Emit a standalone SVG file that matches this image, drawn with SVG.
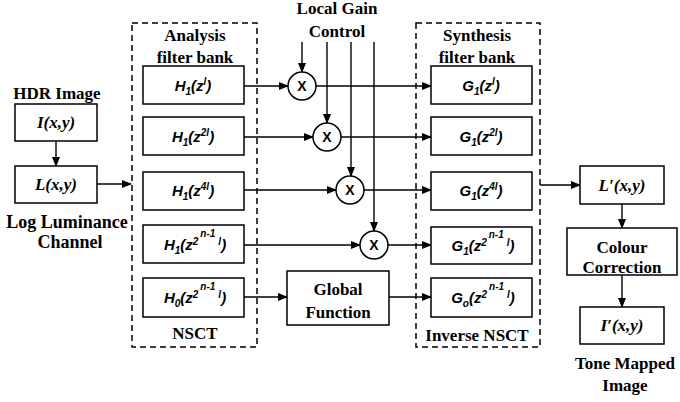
<svg xmlns="http://www.w3.org/2000/svg" width="680" height="402" viewBox="0 0 680 402">
<style>
.box{fill:#fff;stroke:#000;stroke-width:1.5}
.dash{fill:none;stroke:#000;stroke-width:1.5;stroke-dasharray:6,4}
.ln{fill:none;stroke:#000;stroke-width:1.4}
.arr{marker-end:url(#ah)}
.lbl{font-family:"Liberation Serif","Times New Roman","DejaVu Serif",serif;font-weight:bold;font-size:17px;fill:#000;text-anchor:middle}
.mi{font-family:"Liberation Serif","Times New Roman","DejaVu Serif",serif;font-weight:bold;font-style:italic;font-size:17px;fill:#000;text-anchor:middle}
.m{font-family:"Liberation Sans",Arial,sans-serif;font-weight:bold;font-style:italic;font-size:15px;fill:#000;text-anchor:middle}
.s{font-size:10px}
.x{font-family:"Liberation Sans",Arial,sans-serif;font-weight:bold;font-size:14px;fill:#000;text-anchor:middle}
</style>
<defs>
<marker id="ah" markerWidth="10" markerHeight="8" refX="9" refY="4" orient="auto" markerUnits="userSpaceOnUse">
<path d="M0,0 L10,4 L0,8 Z" fill="#000"/>
</marker>
</defs>
<rect width="680" height="402" fill="#fff"/>

<g id="connectors">
<line class="ln arr" x1="56" y1="141" x2="56" y2="166"/>
<line class="ln arr" x1="97" y1="184" x2="131" y2="184"/>
<line class="ln arr" x1="302" y1="42" x2="302" y2="72"/>
<line class="ln arr" x1="327" y1="42" x2="327" y2="123"/>
<line class="ln arr" x1="351" y1="42" x2="351" y2="176"/>
<line class="ln arr" x1="374" y1="42" x2="374" y2="231"/>
<line class="ln arr" x1="244" y1="86" x2="288" y2="86"/>
<line class="ln arr" x1="316" y1="86" x2="431" y2="86"/>
<line class="ln arr" x1="244" y1="137" x2="313" y2="137"/>
<line class="ln arr" x1="341" y1="137" x2="431" y2="137"/>
<line class="ln arr" x1="244" y1="190" x2="336" y2="190"/>
<line class="ln arr" x1="364" y1="190" x2="431" y2="190"/>
<line class="ln arr" x1="244" y1="245" x2="360" y2="245"/>
<line class="ln arr" x1="388" y1="245" x2="431" y2="245"/>
<line class="ln arr" x1="244" y1="297" x2="287" y2="297"/>
<line class="ln arr" x1="389" y1="297" x2="431" y2="297"/>
<line class="ln arr" x1="540" y1="185" x2="580" y2="185"/>
<line class="ln arr" x1="622" y1="204" x2="622" y2="228"/>
<line class="ln arr" x1="622" y1="275" x2="622" y2="307"/>
</g>

<g id="hdr">
<text class="lbl" x="57" y="99">HDR Image</text>
</g>
<g id="Ixy">
<rect class="box" x="15" y="104" width="82" height="37"/>
<text class="mi" x="56" y="128">I(x,y)</text>
</g>
<g id="Lxy">
<rect class="box" x="15" y="166" width="82" height="37"/>
<text class="mi" x="56" y="190">L(x,y)</text>
<text class="lbl" x="67" y="228" style="font-size:18px">Log Luminance</text>
<text class="lbl" x="70" y="248" style="font-size:18px">Channel</text>
</g>

<g id="analysis">
<rect class="dash" x="132" y="23" width="125" height="324"/>
<text class="lbl" x="195" y="41">Analysis</text>
<text class="lbl" x="195" y="63">filter bank</text>
<text class="lbl" x="195" y="339">NSCT</text>
</g>
<g id="H1">
<rect class="box" x="143" y="66" width="101" height="38"/>
<text class="m" x="193" y="91">H<tspan class="s" dy="4">1</tspan><tspan dy="-4">(z</tspan><tspan class="s" dy="-6">l</tspan><tspan dy="6">)</tspan></text>
</g>
<g id="H2">
<rect class="box" x="143" y="117" width="101" height="38"/>
<text class="m" x="193" y="142">H<tspan class="s" dy="4">1</tspan><tspan dy="-4">(z</tspan><tspan class="s" dy="-6">2l</tspan><tspan dy="6">)</tspan></text>
</g>
<g id="H3">
<rect class="box" x="143" y="172" width="101" height="38"/>
<text class="m" x="193" y="196">H<tspan class="s" dy="4">1</tspan><tspan dy="-4">(z</tspan><tspan class="s" dy="-6">4l</tspan><tspan dy="6">)</tspan></text>
</g>
<g id="H4">
<rect class="box" x="143" y="225" width="101" height="38"/>
<text class="m" x="195" y="250">H<tspan class="s" dy="4">1</tspan><tspan dy="-4">(z</tspan><tspan class="s" dy="-5">2</tspan><tspan class="s" dy="-8" dx="2">n-1</tspan><tspan class="s" dy="8" dx="3">l</tspan><tspan dy="5">)</tspan></text>
</g>
<g id="H0">
<rect class="box" x="143" y="278" width="101" height="39"/>
<text class="m" x="195" y="303">H<tspan class="s" dy="4">0</tspan><tspan dy="-4">(z</tspan><tspan class="s" dy="-5">2</tspan><tspan class="s" dy="-8" dx="2">n-1</tspan><tspan class="s" dy="8" dx="3">l</tspan><tspan dy="5">)</tspan></text>
</g>

<g id="lgc">
<text class="lbl" x="337" y="14">Local Gain</text>
<text class="lbl" x="337" y="37">Control</text>
</g>
<g id="m1"><circle class="box" cx="302" cy="86" r="14"/><text class="x" x="302" y="91">X</text></g>
<g id="m2"><circle class="box" cx="327" cy="137" r="14"/><text class="x" x="327" y="142">X</text></g>
<g id="m3"><circle class="box" cx="350" cy="190" r="14"/><text class="x" x="350" y="195">X</text></g>
<g id="m4"><circle class="box" cx="374" cy="245" r="14"/><text class="x" x="374" y="250">X</text></g>

<g id="global">
<rect class="box" x="287" y="271" width="102" height="54"/>
<text class="lbl" x="338" y="295">Global</text>
<text class="lbl" x="338" y="318">Function</text>
</g>

<g id="synthesis">
<rect class="dash" x="416" y="23" width="124" height="324"/>
<text class="lbl" x="477" y="41">Synthesis</text>
<text class="lbl" x="477" y="63">filter bank</text>
<text class="lbl" x="477" y="341">Inverse NSCT</text>
</g>
<g id="G1">
<rect class="box" x="431" y="66" width="101" height="38"/>
<text class="m" x="481" y="91">G<tspan class="s" dy="4">1</tspan><tspan dy="-4">(z</tspan><tspan class="s" dy="-6">l</tspan><tspan dy="6">)</tspan></text>
</g>
<g id="G2">
<rect class="box" x="431" y="117" width="101" height="38"/>
<text class="m" x="481" y="142">G<tspan class="s" dy="4">1</tspan><tspan dy="-4">(z</tspan><tspan class="s" dy="-6">2l</tspan><tspan dy="6">)</tspan></text>
</g>
<g id="G3">
<rect class="box" x="431" y="172" width="101" height="38"/>
<text class="m" x="481" y="196">G<tspan class="s" dy="4">1</tspan><tspan dy="-4">(z</tspan><tspan class="s" dy="-6">4l</tspan><tspan dy="6">)</tspan></text>
</g>
<g id="G4">
<rect class="box" x="431" y="227" width="101" height="37"/>
<text class="m" x="483" y="251">G<tspan class="s" dy="4">1</tspan><tspan dy="-4">(z</tspan><tspan class="s" dy="-5">2</tspan><tspan class="s" dy="-8" dx="2">n-1</tspan><tspan class="s" dy="8" dx="3">l</tspan><tspan dy="5">)</tspan></text>
</g>
<g id="G0">
<rect class="box" x="431" y="278" width="101" height="39"/>
<text class="m" x="483" y="303">G<tspan class="s" dy="4">o</tspan><tspan dy="-4">(z</tspan><tspan class="s" dy="-5">2</tspan><tspan class="s" dy="-8" dx="2">n-1</tspan><tspan class="s" dy="8" dx="3">l</tspan><tspan dy="5">)</tspan></text>
</g>

<g id="Lpxy">
<rect class="box" x="580" y="166" width="84" height="38"/>
<text class="mi" x="622" y="191">L′(x,y)</text>
</g>
<g id="colour">
<rect class="box" x="567" y="228" width="110" height="47"/>
<text class="lbl" x="622" y="253">Colour</text>
<text class="lbl" x="622" y="273">Correction</text>
</g>
<g id="Ipxy">
<rect class="box" x="580" y="307" width="84" height="37"/>
<text class="mi" x="622" y="331">I′(x,y)</text>
<text class="lbl" x="625" y="369">Tone Mapped</text>
<text class="lbl" x="625" y="391">Image</text>
</g>
</svg>
